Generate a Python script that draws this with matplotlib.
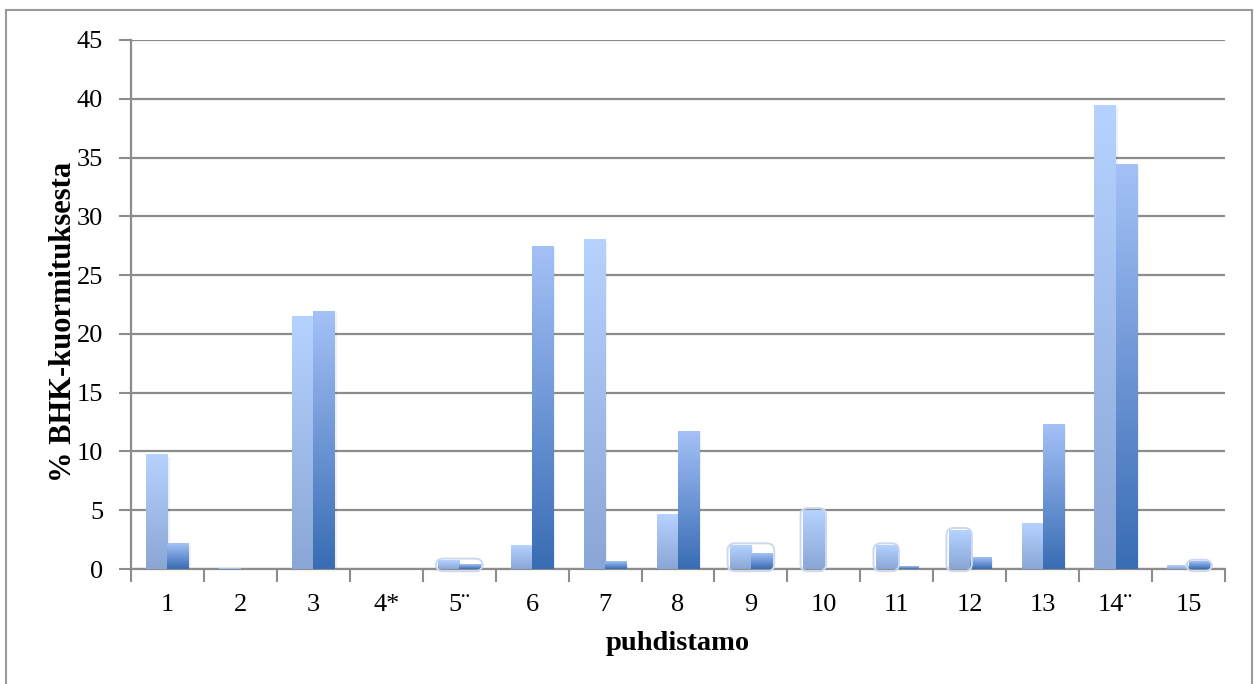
import numpy as np
import matplotlib.pyplot as plt
from matplotlib.patches import Rectangle, FancyBboxPatch
from matplotlib.colors import LinearSegmentedColormap

# puhdistamokohtaiset osuudet BHK-kuormituksesta (%)
puhdistamot = ["1", "2", "3", "4*", "5¨", "6", "7", "8", "9", "10",
               "11", "12", "13", "14¨", "15"]
sarja1 = [9.7, 0.05, 21.5, 0.0, 0.7, 2.0, 28.0, 4.6, 2.0, 5.0,
          2.0, 3.3, 3.9, 39.4, 0.3]
sarja2 = [2.2, 0.0, 21.9, 0.0, 0.4, 27.4, 0.6, 11.7, 1.3, 0.0,
          0.2, 1.0, 12.3, 34.4, 0.6]

# pienten pylväiden ympärille piirrettävät hohtoreunat: (indeksi, mitkä sarjat)
hohto = [(4, "ab"), (8, "ab"), (9, "a"), (10, "a"), (11, "a"), (14, "b")]

# liukuvärit: ylhäältä vaalea, alhaalta tummempi
cmap1 = LinearSegmentedColormap.from_list("s1", ["#8aa6d6", "#b6d2ff"])
cmap2 = LinearSegmentedColormap.from_list("s2", ["#386cb4", "#a4c1f7"])

plt.rcParams['font.family'] = ['Liberation Serif', 'DejaVu Serif']

fig = plt.figure(figsize=(12.54, 6.84), dpi=100)
ax = fig.add_axes([131 / 1254, 115 / 684, 1094 / 1254, 529 / 684])

# kehys koko kuvan ympärillä (alareuna jää kuvan ulkopuolelle)
fig.patches.append(Rectangle((6 / 1254, -10 / 684), 1246 / 1254, 684 / 684,
                             transform=fig.transFigure, fill=False,
                             edgecolor="#9a9a9a", linewidth=1.5))

x = np.arange(len(puhdistamot))
w = 0.29
grad = np.linspace(0, 1, 256).reshape(-1, 1)


def gradient_bars(xs, vals, cmap):
    bars = ax.bar(xs, vals, width=w, color="none", edgecolor="none", zorder=3)
    for b in bars:
        h = b.get_height()
        if h <= 0:
            continue
        x0 = b.get_x()
        # pieni varjo oikealle alas
        ax.add_patch(Rectangle((x0 + 0.03, -0.15), w, h, facecolor="#000000",
                               alpha=0.06, edgecolor="none", zorder=2))
        ax.imshow(grad, extent=[x0, x0 + w, 0, h], origin="lower",
                  cmap=cmap, aspect="auto", zorder=3, interpolation="bilinear")


gradient_bars(x - w / 2, sarja1, cmap1)
gradient_bars(x + w / 2, sarja2, cmap2)

# pyöreäkulmaiset vaaleat reunat pienten pylväiden ympärillä
for i, which in hohto:
    x0 = x[i] - w if "a" in which else x[i]
    x1 = x[i] + w if "b" in which else x[i]
    top = max(sarja1[i] if "a" in which else 0, sarja2[i] if "b" in which else 0)
    ax.add_patch(FancyBboxPatch((x0, 0), x1 - x0, top,
                                boxstyle="round,pad=0.03,rounding_size=0.1",
                                mutation_aspect=6.2, fill=False,
                                edgecolor="#ccd8ee", linewidth=1.4, zorder=4,
                                clip_on=False))

ax.set_xlim(-0.5, len(puhdistamot) - 0.5)
ax.set_ylim(0, 45)
ax.set_yticks(np.arange(0, 46, 5))
ax.yaxis.grid(True, color="#8c8c8c", linewidth=1.6, zorder=0)
ax.set_axisbelow(True)

ax.set_xticks(x)
ax.set_xticklabels(puhdistamot)
ax.set_xticks(np.arange(-0.5, len(puhdistamot)), minor=True)
ax.tick_params(axis="x", which="major", length=0, pad=18, labelsize=19)
ax.tick_params(axis="x", which="minor", length=9, width=1.5, color="#8c8c8c",
               direction="out")
ax.tick_params(axis="y", length=9, width=1.5, color="#8c8c8c", pad=11,
               labelsize=19)

for side in ("top", "right"):
    ax.spines[side].set_visible(False)
for side in ("left", "bottom"):
    ax.spines[side].set_color("#8c8c8c")
    ax.spines[side].set_linewidth(1.6)

ax.set_ylabel("% BHK-kuormituksesta", fontsize=22, fontweight="bold")
ax.yaxis.set_label_coords(-0.048, 0.467)
ax.set_xlabel("puhdistamo", fontsize=20.5, fontweight="bold", labelpad=11)

fig.savefig("out.png", dpi=100)
